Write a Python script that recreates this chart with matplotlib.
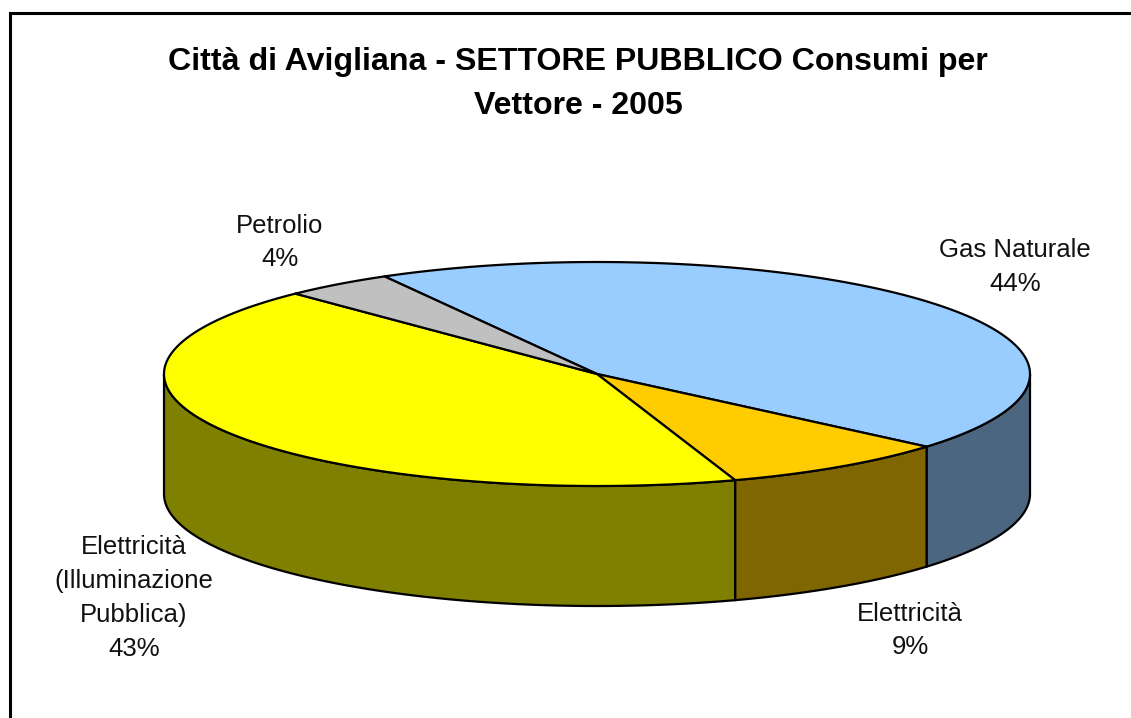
#!/usr/bin/env python3
"""Citta di Avigliana: public sector consumption by carrier, drawn as a 3D style pie."""

import matplotlib

matplotlib.use("Agg")
import matplotlib.pyplot as plt
import numpy as np
from matplotlib.patches import Polygon

plt.rcParams["font.family"] = ["Liberation Sans", "DejaVu Sans"]

title = "Città di Avigliana - SETTORE PUBBLICO Consumi per\nVettore - 2005"
labels = ["Gas Naturale", "Elettricità", "Elettricità\n(Illuminazione\nPubblica)", "Petrolio"]
values = [44.4, 8.6, 42.9, 4.1]
top_colors = ["#99CCFF", "#FFCC00", "#FFFF00", "#C0C0C0"]
side_colors = ["#4D6680", "#806600", "#808000", "#606060"]
label_pos = [(1015, 267), (910, 630.5), (134, 598), (280, 242.5)]

W, H = 1131, 718
CX, CY, RX, RY = 597, 374, 433, 112
DEPTH = 120
START = -29.4


def rim(theta_deg, drop=0.0):
    t = np.radians(theta_deg)
    return np.column_stack([CX + RX * np.sin(t), CY - RY * np.cos(t) + drop])


fig = plt.figure(figsize=(W / 100, H / 100), dpi=100)
ax = fig.add_axes([0, 0, 1, 1])
ax.set_xlim(0, W)
ax.set_ylim(H, 0)
ax.axis("off")

# chart frame, only left and top are inside the crop
ax.plot([10, 10, W], [H, 12.5, 12.5], color="black", lw=2.2, solid_joinstyle="miter")

edges = START + np.cumsum([0] + values) * 3.6

# side walls, visible only on the front half (90..270 deg from top)
for i in range(len(values)):
    a0, a1 = max(edges[i], 90), min(edges[i + 1], 270)
    if a1 <= a0:
        continue
    th = np.linspace(a0, a1, 120)
    wall = np.vstack([rim(th), rim(th[::-1], DEPTH)])
    ax.add_patch(Polygon(wall, closed=True, facecolor=side_colors[i], edgecolor="black", lw=1.6, zorder=2))

# top slices
for i in range(len(values)):
    th = np.linspace(edges[i], edges[i + 1], 200)
    top = np.vstack([[CX, CY], rim(th)])
    ax.add_patch(Polygon(top, closed=True, facecolor=top_colors[i], edgecolor="black", lw=1.6, zorder=3, joinstyle="round"))

ax.text(578, 84, title, ha="center", va="center", fontsize=23.1, fontweight="bold", color="black", linespacing=1.64)

for name, val, (x, y) in zip(labels, values, label_pos):
    ax.text(x, y, f"{name}\n{round(val)}%", ha="center", va="center", fontsize=18.5, color="#111111", linespacing=1.52)

fig.savefig("out.png", dpi=100, facecolor="white")
